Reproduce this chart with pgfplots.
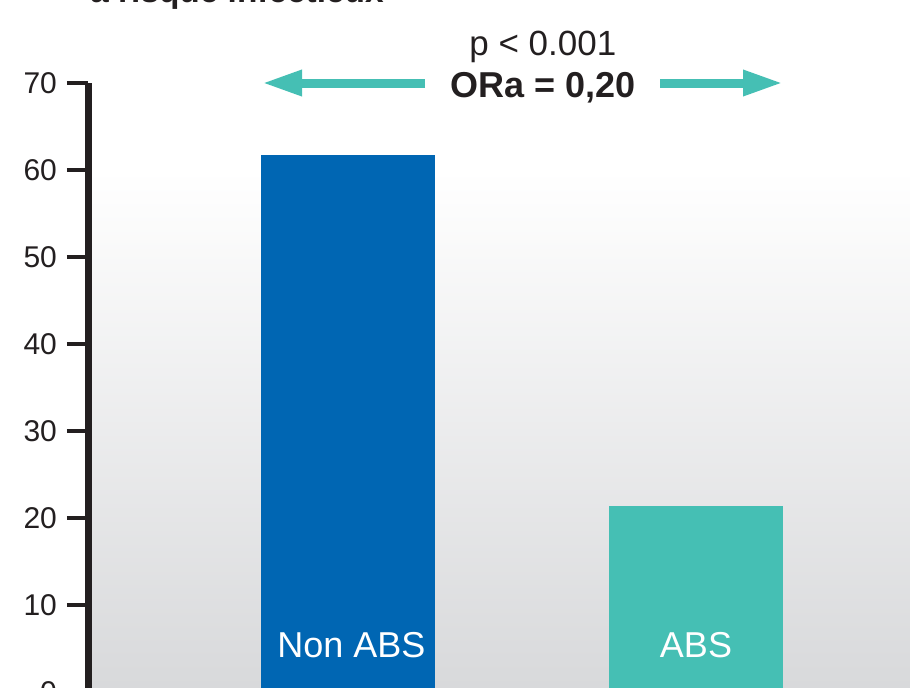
\documentclass[border=0pt]{standalone}
\usepackage{pgfplots}
\pgfplotsset{compat=1.18}
\usetikzlibrary{arrows.meta}
\usepackage{fontspec}
\setmainfont{Liberation Sans}
\definecolor{absblue}{HTML}{0066B3}
\definecolor{absteal}{HTML}{45BFB4}
\definecolor{axdark}{HTML}{231F20}
\definecolor{bggray}{HTML}{D8D9DB}

\begin{document}
\begin{tikzpicture}
% background gradient behind the plot area
\shade[top color=white, bottom color=bggray, draw=none] (44pt,0pt) rectangle (455pt,258.5pt);
\begin{axis}[
  at={(44pt,-2.5pt)}, anchor=south west,
  x=174pt, y=4.35pt,
  xmin=0.2529, xmax=2.615, ymin=0, ymax=70,
  axis x line=none, axis y line*=left,
  y axis line style={line width=3.5pt, axdark},
  ytick={0,10,...,70}, ytick pos=left, tick align=outside,
  major tick length=10.5pt,
  ytick style={line width=2pt, axdark},
  yticklabel style={font=\fontsize{15}{18}\selectfont, text=axdark, xshift=-1.5pt,
    /pgf/number format/assume math mode=true},
  ybar, bar width=87pt, bar shift=0pt,
  clip=false,
]
\addplot[fill=absblue, draw=none] coordinates {(1,61.7)};
\addplot[fill=absteal, draw=none] coordinates {(2,21.4)};

\node[text=white, font=\fontsize{18}{21}\selectfont] at (axis cs:1.01,5.4) {Non ABS};
\node[text=white, font=\fontsize{18}{21}\selectfont] at (axis cs:2,5.4) {ABS};

\draw[absteal, line width=4.5pt, -{Triangle[length=20pt,width=12pt]}]
  (axis cs:1.2213,70) -- (axis cs:0.7529,70);
\draw[absteal, line width=4.5pt, -{Triangle[length=20pt,width=12pt]}]
  (axis cs:1.8966,70) -- (axis cs:2.25,70);

\node[anchor=base, text=axdark, font=\fontsize{17.5}{21}\selectfont]
  at (axis cs:1.56,73.2) {p < 0.001};
\node[anchor=base, text=axdark, font=\bfseries\fontsize{18}{21}\selectfont]
  at (axis cs:1.56,68.3) {ORa = 0,20};
\end{axis}
\node[anchor=base west, inner sep=0pt, text=axdark, font=\bfseries\fontsize{16.7}{20}\selectfont]
  at (45pt,342pt) {à risque infectieux};
\pgfresetboundingbox
\useasboundingbox (0,0) rectangle (455pt,343.5pt);
\end{tikzpicture}
\end{document}
